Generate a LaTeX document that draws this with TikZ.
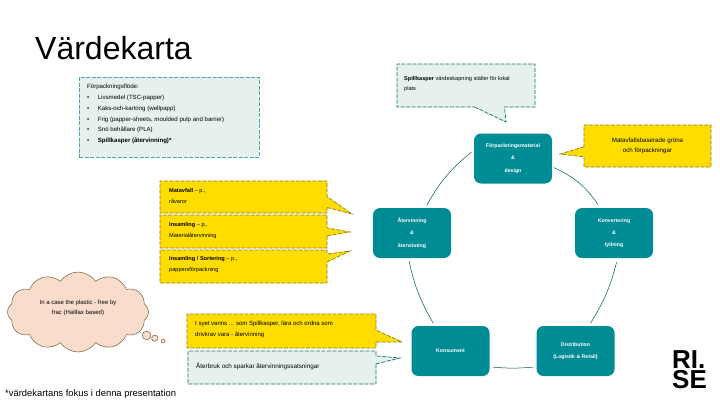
\documentclass[tikz,border=0pt]{standalone}
\usepackage{fontspec}
\setmainfont{Liberation Sans}
\usetikzlibrary{shapes.callouts,shapes.symbols}
\definecolor{tealbox}{HTML}{008C95}
\definecolor{tealline}{HTML}{0F7068}
\definecolor{goldbox}{HTML}{FFDD00}
\definecolor{goldline}{HTML}{8A7F1E}
\definecolor{palebox}{HTML}{E6F1EE}
\definecolor{cloudbox}{HTML}{F9DCCB}
\definecolor{cloudline}{HTML}{6B6436}
\tikzset{
    stepbox/.style={fill=tealbox,text=white,rounded corners=7pt,minimum width=78pt,minimum height=50pt,
        align=center,inner sep=0pt,font=\fontsize{5.2}{12.3}\selectfont\bfseries},
    notetext/.style={inner sep=0pt,anchor=west,align=left,font=\fontsize{5.6}{10.5}\selectfont},
    goldnote/.style={rectangle callout,fill=goldbox,draw=goldline,dash pattern=on 4pt off 1.5pt,
        line width=.7pt,inner sep=0pt},
    palenote/.style={rectangle callout,fill=palebox,draw=tealline,dash pattern=on 4pt off 1.5pt,
        line width=.7pt,inner sep=0pt},
    listnote/.style={rectangle,fill=palebox,draw=tealbox!70!palebox,dash pattern=on 4pt off 1.5pt,
        line width=.7pt,inner sep=0pt},
    ringline/.style={draw=tealbox!60!black,line width=.5pt}
}
\begin{document}
\begin{tikzpicture}[x=1pt,y=-1pt]
    \useasboundingbox (0,0) rectangle (720,405);

    %%%%%%% Titel %%%%%%%
    \node[anchor=base west,inner sep=0pt,font=\fontsize{32}{32}\selectfont] (title) at (35,59) {Värdekarta};

    %%%%%%% Blocken i ringen %%%%%%%
    \node[stepbox] (design) at (513,158.5) {Förpackningsmaterial\\\&\\design};
    \node[stepbox] (convert) at (614,233) {Konvertering\\\&\\fyllning};
    \node[stepbox] (distrib) at (575.5,351) {Distribution\\(Logistik \& Retail)};
    \node[stepbox] (consumer) at (450.5,351) {Konsument};
    \node[stepbox] (recycle) at (412,233) {Återvinning\\\&\\återvinning};

    %%%%%%% Ringen %%%%%%%
    \draw[ringline,shorten <=2pt,shorten >=4pt] (design.-12) to[bend left=16] (convert.119);
    \draw[ringline,shorten <=4pt,shorten >=3pt] (convert.-82) to[bend left=9] (distrib.62);
    \draw[ringline,shorten <=3pt,shorten >=3pt] (distrib.-158) to[bend left=5] (consumer.-22);
    \draw[ringline,shorten <=3pt,shorten >=3pt] (consumer.122) to[bend left=9] (recycle.-98);
    \draw[ringline,shorten <=3pt,shorten >=3pt] (recycle.62) to[bend left=11] (design.168);

    %%%%%%% Lista %%%%%%%
    \node[listnote,minimum width=180pt,minimum height=80pt] (listbox) at (169.3,117.3) {};
    \node[notetext,anchor=north west,font=\fontsize{6.1}{10.8}\selectfont] (listtext) at (87,84) {%
        Förpackningsflöde:\\
        \textbullet\hspace{8.5pt}Livsmedel (TSC-papper)\\
        \textbullet\hspace{8.5pt}Kaks-och-kartong (wellpapp)\\
        \textbullet\hspace{8.5pt}Frig (papper-sheets, moulded pulp and barrier)\\
        \textbullet\hspace{8.5pt}Snö behållare (PLA)\\
        \textbullet\hspace{8.5pt}\textbf{Spillkasper (återvinning)*}};

    %%%%%%% Pratbubblor %%%%%%%
    \node[palenote,minimum width=138pt,minimum height=43pt,callout pointer width=30pt,
        callout absolute pointer={(506,122)}] (topnote) at (466,85.5) {};
    \node[notetext] (toptext) at (404,84) {\textbf{Spillkasper} värdeskapning ställer för lokal\\plats};
    \node[goldnote,minimum width=127pt,minimum height=42pt,callout pointer width=10pt,
        callout absolute pointer={(560,154)},align=center,
        font=\fontsize{6.2}{10}\selectfont] (matnote) at (647.5,146) {Matavfallsbaserade gröna\\och förpackningar};

    \node[goldnote,minimum width=167pt,minimum height=32pt,callout pointer width=11pt,
        callout absolute pointer={(352,214)}] (goldone) at (243.5,197) {};
    \node[notetext] (goldonetext) at (169,196) {\textbf{Matavfall} – p.,\\råvaror};
    \node[goldnote,minimum width=167pt,minimum height=33pt,callout pointer width=8pt,
        callout absolute pointer={(350,232)}] (goldtwo) at (243.5,231.5) {};
    \node[notetext] (goldtwotext) at (169,230.5) {\textbf{Insamling} – p.,\\Materialåtervinning};
    \node[goldnote,minimum width=167pt,minimum height=33pt,callout pointer width=8pt,
        callout absolute pointer={(350,251)}] (goldthree) at (243.5,266.5) {};
    \node[notetext] (goldthreetext) at (169,264.5) {\textbf{Insamling / Sortering} – p.,\\pappersförpackning};

    \node[goldnote,minimum width=189pt,minimum height=34pt,callout pointer width=12pt,
        callout absolute pointer={(402,342)}] (goldfour) at (281.5,331) {};
    \node[notetext,font=\fontsize{6}{11}\selectfont] (goldfourtext) at (195,329.5) {I syet vanns ... som Spillkasper, lära och ordna som\\drivkrav vara - återvinning};
    \node[palenote,minimum width=188pt,minimum height=33pt,callout pointer width=8pt,
        callout absolute pointer={(400,358)}] (palefour) at (282,367.5) {};
    \node[notetext,font=\fontsize{6.3}{11}\selectfont] (palefourtext) at (196,366) {Återbruk och sparkar återvinningssatsningar};

    %%%%%%% Moln %%%%%%%
    \node[cloud callout,fill=cloudbox,draw=cloudline,line width=.5pt,cloud puffs=12,cloud puff arc=110,aspect=1.9,inner sep=0pt,
        minimum width=141pt,minimum height=80pt,callout absolute pointer={(163,341)},
        callout pointer start size=12pt and 11pt,callout pointer end size=4pt and 4pt,callout pointer segments=3] (cloudnote) at (78,312) {};
    \node[inner sep=0pt,align=center,font=\fontsize{6}{10}\selectfont] (cloudtext) at (78,308) {In a case the plastic - free by\\frac (Halifax based)};

    %%%%%%% Fot %%%%%%%
    \node[anchor=base west,inner sep=0pt,font=\fontsize{9.4}{12}\selectfont] (footnote) at (5,396) {*värdekartans fokus i denna presentation};
    \node[anchor=north west,inner sep=0pt,align=left,font=\fontsize{26}{20.5}\selectfont\bfseries] (logo) at (672,350) {RI.\\SE};
\end{tikzpicture}
\end{document}
